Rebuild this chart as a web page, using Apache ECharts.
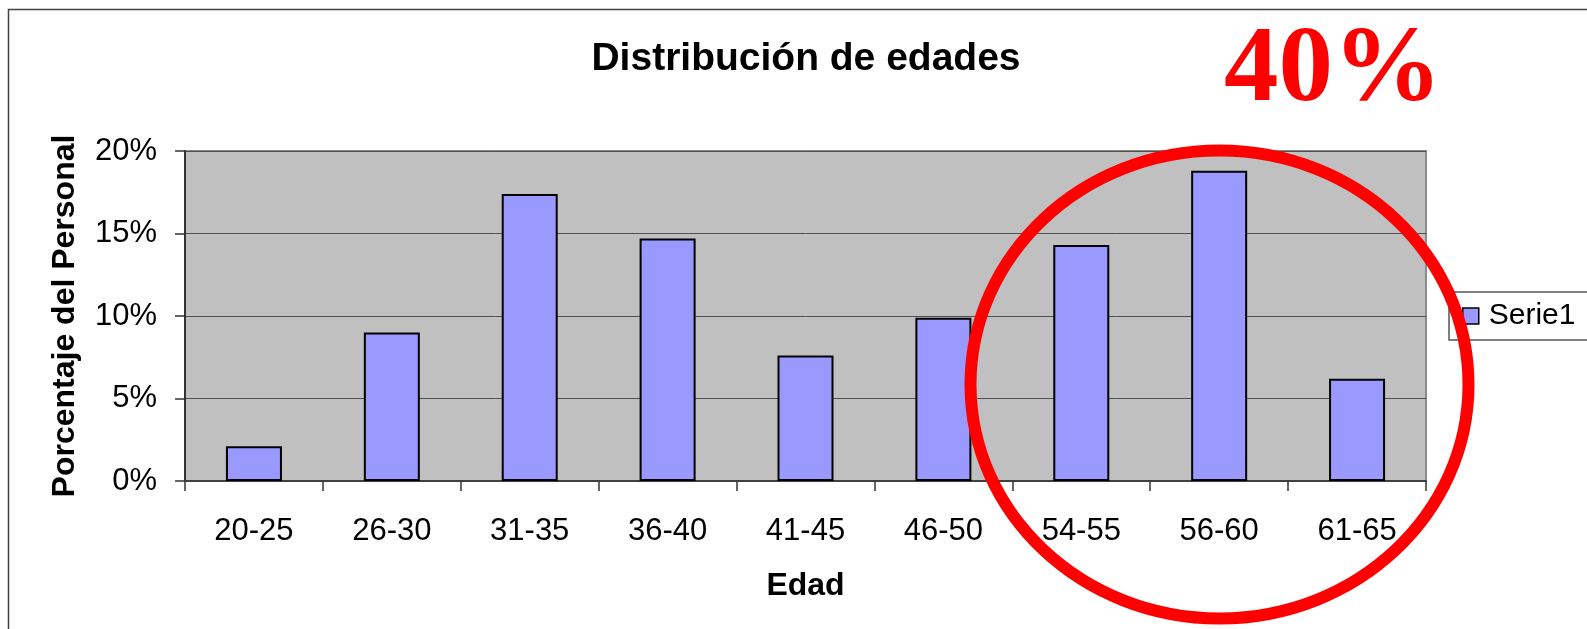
<!DOCTYPE html>
<html>
<head>
<meta charset="utf-8">
<script src="https://cdn.jsdelivr.net/npm/echarts@6/dist/echarts.min.js"></script>
<style>
html,body{margin:0;padding:0;background:#fff;}
#c{width:1587px;height:629px;}
</style>
</head>
<body>
<div id="c"></div>
<script>
const categories = ['20-25','26-30','31-35','36-40','41-45','46-50','54-55','56-60','61-65'];
const serie1 = [2.1, 9.0, 17.4, 14.7, 7.6, 9.9, 14.3, 18.8, 6.2];
const yTicks = [0, 5, 10, 15, 20];

const chart = echarts.init(document.getElementById('c'), null, {renderer:'canvas'});
const F = "'Liberation Sans', Arial, sans-serif";
chart.setOption({
  backgroundColor:'#fff',
  animation:false,
  title:{
    text:'Distribución de edades',
    left:806, top:40, textAlign:'center', padding:0,
    textStyle:{fontFamily:F, fontSize:39, fontWeight:'bold', color:'#000'}
  },
  legend:{
    data:['Serie1'],
    left:1449, top:292,
    orient:'vertical',
    padding:[9,20,9,13],
    borderColor:'#555', borderWidth:1.5,
    itemWidth:16, itemHeight:16,
    icon:'rect',
    itemStyle:{borderColor:'#000', borderWidth:1.5},
    textStyle:{fontFamily:F, fontSize:30, color:'#000', padding:[0,0,0,5]}
  },
  grid:{
    left:185, right:161, top:151, bottom:148,
    show:true, backgroundColor:'#C0C0C0', borderColor:'#8a8a8a', borderWidth:2
  },
  xAxis:{
    type:'category', data:categories,
    name:'Edad', nameLocation:'middle', nameGap:89,
    nameTextStyle:{fontFamily:F, fontSize:32, fontWeight:'bold', color:'#000'},
    axisLine:{show:true, lineStyle:{color:'#404040', width:2}},
    axisTick:{show:true, length:10, lineStyle:{color:'#333', width:1.5}},
    axisLabel:{fontFamily:F, fontSize:31, color:'#000', margin:35, interval:0}
  },
  yAxis:{
    type:'value', min:0, max:20, interval:5,
    name:'Porcentaje del Personal', nameLocation:'middle', nameGap:104,
    nameTextStyle:{fontFamily:F, fontSize:32, fontWeight:'bold', color:'#000'},
    axisLine:{show:true, lineStyle:{color:'#333', width:2}},
    axisTick:{show:true, length:10, lineStyle:{color:'#333', width:1.5}},
    axisLabel:{fontFamily:F, fontSize:31, color:'#000', margin:28,
      formatter:function(v){return yTicks.indexOf(v)>=0 ? v+'%' : '';}},
    splitLine:{show:true, lineStyle:{color:'#505050', width:1}}
  },
  series:[{
    name:'Serie1', type:'bar', data:serie1,
    barWidth:56,
    itemStyle:{color:'#9999FF', borderColor:'#000', borderWidth:2}
  }],
  graphic:[
    {type:'rect', z:100, silent:true,
     shape:{x:8.5, y:9.5, width:1700, height:800},
     style:{fill:null, stroke:'#404040', lineWidth:1.5}},
    {type:'ellipse', z:110, silent:true,
     shape:{cx:1219.5, cy:384.5, rx:249, ry:234},
     style:{fill:null, stroke:'#FF0000', lineWidth:12}},
    {type:'text', z:110, silent:true, x:1333, y:72,
     style:{text:'40%', fill:'#FF0000', font:"bold 109px 'Liberation Serif', 'Times New Roman', serif",
            textAlign:'center', textVerticalAlign:'middle'}}
  ]
});
</script>
</body>
</html>
